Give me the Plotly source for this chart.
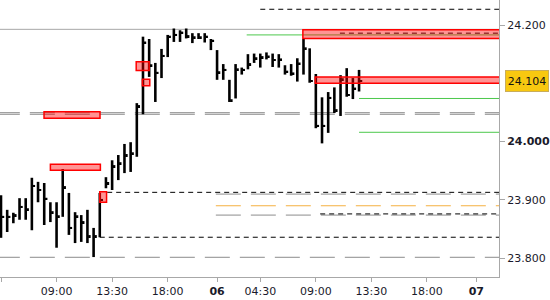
import plotly.graph_objects as go

# ---------------- data ----------------
highs = [23.908, 23.883, 23.878, 23.903, 23.903, 23.938, 23.931, 23.929, 23.896, 23.896,
         23.953, 23.912, 23.879, 23.874, 23.883, 23.852, 23.912, 23.939, 23.968, 23.977,
         23.996, 23.999, 24.066, 24.180, 24.176, 24.135, 24.159, 24.183, 24.194, 24.191,
         24.194, 24.186, 24.186, 24.186, 24.176, 24.157, 24.133, 24.106, 24.133, 24.127,
         24.150, 24.151, 24.151, 24.153, 24.151, 24.150, 24.131, 24.133, 24.143, 24.176,
         24.160, 24.116, 24.076, 24.085, 24.093, 24.114, 24.126, 24.109, 24.123]
lows = [23.835, 23.845, 23.860, 23.866, 23.866, 23.848, 23.896, 23.857, 23.862, 23.818,
        23.871, 23.840, 23.826, 23.828, 23.826, 23.802, 23.836, 23.920, 23.917, 23.934,
        23.946, 23.948, 23.974, 24.047, 24.111, 24.068, 24.109, 24.145, 24.171, 24.171,
        24.177, 24.169, 24.176, 24.170, 24.157, 24.106, 24.106, 24.068, 24.074, 24.115,
        24.124, 24.135, 24.127, 24.141, 24.128, 24.127, 24.115, 24.113, 24.103, 24.115,
        24.101, 24.023, 23.997, 24.015, 24.049, 24.044, 24.077, 24.073, 24.086]
closes = [23.871, 23.871, 23.874, 23.888, 23.884, 23.924, 23.917, 23.902, 23.879, 23.872,
          23.922, 23.852, 23.872, 23.862, 23.838, 23.838, 23.900, 23.929, 23.958, 23.963,
          23.977, 23.980, 24.061, 24.170, 24.131, 24.118, 24.147, 24.180, 24.183, 24.187,
          24.181, 24.179, 24.179, 24.180, 24.173, 24.119, 24.123, 24.071, 24.124, 24.123,
          24.133, 24.143, 24.145, 24.146, 24.140, 24.141, 24.120, 24.117, 24.134, 24.160,
          24.104, 24.027, 24.027, 24.075, 24.054, 24.107, 24.080, 24.091, 24.104]
bar_index = list(range(len(highs)))

x_tick_pos = [0, 9, 18, 27, 35, 42, 51, 60, 69, 77]
x_tick_text = ["04:30", "09:00", "13:30", "18:00", "<b>06</b>", "04:30", "09:00", "13:30", "18:00", "<b>07</b>"]
y_tick_vals = [23.8, 23.9, 24.0, 24.2]
y_tick_text = ["23.800", "23.900", "<b>24.000</b>", "24.200"]
last_price = 24.104

# horizontal levels: value, starting bar index (run to the right edge)
level_values = [24.227, 24.1926, 24.183, 24.186, 24.074, 24.016, 24.0496, 24.0469,
                23.913, 23.836, 23.8016, 23.910, 23.890, 23.874, 23.876]
level_starts = [42.0, -1.0, 39.8, 54.9, 58.0, 58.0, -1.0, -1.0,
                17.2, 16.0, -1.0, 34.8, 34.8, 34.8, 51.7]
level_kinds = ["black", "graysolid", "green", "black", "green", "green", "graydash", "graydash",
               "black", "black", "graydash", "graydash", "orange", "graydash", "black"]

# zones: low, high, start bar, end bar
zone_lo = [24.177, 24.100, 24.040, 24.122, 24.096, 23.951, 23.896]
zone_hi = [24.192, 24.111, 24.0513, 24.137, 24.107, 23.961, 23.914]
zone_x0 = [48.9, 50.9, 6.97, 21.9, 22.9, 8.0, 16.0]
zone_x1 = [90.0, 90.0, 16.04, 24.0, 24.1, 16.1, 17.1]

# ---------------- styling ----------------
X_MIN, X_MAX = -0.162, 80.67
Y_MIN, Y_MAX = 23.7678, 24.2429
styles = {
    "black": dict(color="#000000", width=1, dash="5px,4px"),
    "graysolid": dict(color="#a8a8a8", width=1, dash="solid"),
    "green": dict(color="#4cc84c", width=1, dash="solid"),
    "graydash": dict(color="#8c8c8c", width=1, dash="25px,10px"),
    "orange": dict(color="#f5b041", width=1, dash="25px,10px"),
}

fig = go.Figure()

shapes = []
for v, s, k in zip(level_values, level_starts, level_kinds):
    shapes.append(dict(type="line", xref="x", yref="y", x0=s, x1=X_MAX + 5, y0=v, y1=v,
                       line=styles[k], layer="below"))
for lo, hi, a, b in zip(zone_lo, zone_hi, zone_x0, zone_x1):
    shapes.append(dict(type="rect", xref="x", yref="y", x0=a, x1=b, y0=lo, y1=hi,
                       fillcolor="rgba(255,0,0,0.42)", line=dict(color="#ff0000", width=1.5),
                       layer="above"))

fig.add_trace(go.Bar(
    x=bar_index, base=lows, y=[h - l for h, l in zip(highs, lows)],
    width=0.42, marker=dict(color="#000000", line=dict(width=0)),
    hoverinfo="skip", showlegend=False))
fig.add_trace(go.Bar(
    x=bar_index, base=[c - 0.0017 for c in closes], y=[0.0034] * len(closes),
    width=0.4, offset=0.12, marker=dict(color="#000000", line=dict(width=0)),
    hoverinfo="skip", showlegend=False))

fig.add_annotation(xref="paper", yref="y", x=1, y=last_price, text="24.104",
                   xanchor="left", yanchor="middle", xshift=6, showarrow=False,
                   bgcolor="#f8c810", bordercolor="#c9ad5a", borderwidth=1,
                   width=40, height=18, font=dict(family="DejaVu Sans", size=11, color="#111111"))

fig.update_layout(
    width=550, height=300,
    margin=dict(l=0, r=51, t=0, b=23),
    paper_bgcolor="white", plot_bgcolor="white",
    barmode="overlay", showlegend=False,
    shapes=shapes,
    font=dict(family="DejaVu Sans", size=11, color="#1a1a2a"),
    xaxis=dict(range=[X_MIN, X_MAX], showgrid=False, zeroline=False,
               showline=True, linecolor="#a8a8a8", linewidth=1,
               ticks="outside", ticklen=4, tickcolor="#a8a8a8",
               tickvals=x_tick_pos, ticktext=x_tick_text,
               tickfont=dict(size=11, color="#1a1a2a")),
    yaxis=dict(range=[Y_MIN, Y_MAX], side="right", showgrid=False, zeroline=False,
               showline=True, linecolor="#a8a8a8", linewidth=1,
               ticks="outside", ticklen=5, tickcolor="#a8a8a8",
               tickvals=y_tick_vals, ticktext=y_tick_text,
               tickfont=dict(size=11, color="#1a1a2a")),
)

fig.write_html("out.html")
